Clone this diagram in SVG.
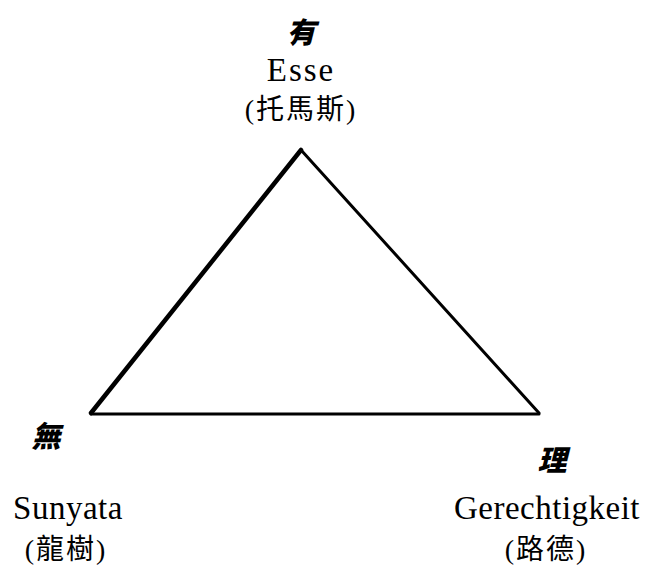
<svg xmlns="http://www.w3.org/2000/svg" width="647" height="569" viewBox="0 0 647 569">
<style>
.h{font-family:"Noto Sans CJK TC","Noto Sans CJK SC",sans-serif;font-weight:900;font-style:italic;font-size:29px;text-anchor:middle;fill:#000}
.l{font-family:"Liberation Serif",serif;font-size:33px;text-anchor:middle;fill:#000}
.c{font-family:"Liberation Serif","Noto Sans CJK TC",serif;font-size:28px;text-anchor:middle;fill:#000}
.e{stroke:#000;fill:none;stroke-linecap:round;stroke-linejoin:round}
</style>
<rect width="647" height="569" fill="#fff"/>
<g id="connectors">
<line class="e" x1="91" y1="413" x2="301" y2="150" stroke-width="4.5"/>
<line class="e" x1="301" y1="150" x2="539" y2="413" stroke-width="3"/>
<line class="e" x1="91" y1="414" x2="539" y2="414" stroke-width="3"/>
</g>
<g id="node-top">
<text class="h" x="301" y="43">有</text>
<text class="l" x="301" y="81" letter-spacing="2">Esse</text>
<text class="c" x="301" y="119" letter-spacing="2">(托馬斯)</text>
</g>
<g id="node-left">
<text class="h" x="46" y="447">無</text>
<text class="l" x="68" y="519" letter-spacing="0.5">Sunyata</text>
<text class="c" x="66" y="559" letter-spacing="2">(龍樹)</text>
</g>
<g id="node-right">
<text class="h" x="552" y="471">理</text>
<text class="l" x="547" y="519" letter-spacing="0.5">Gerechtigkeit</text>
<text class="c" x="546" y="559" letter-spacing="2">(路德)</text>
</g>
</svg>
